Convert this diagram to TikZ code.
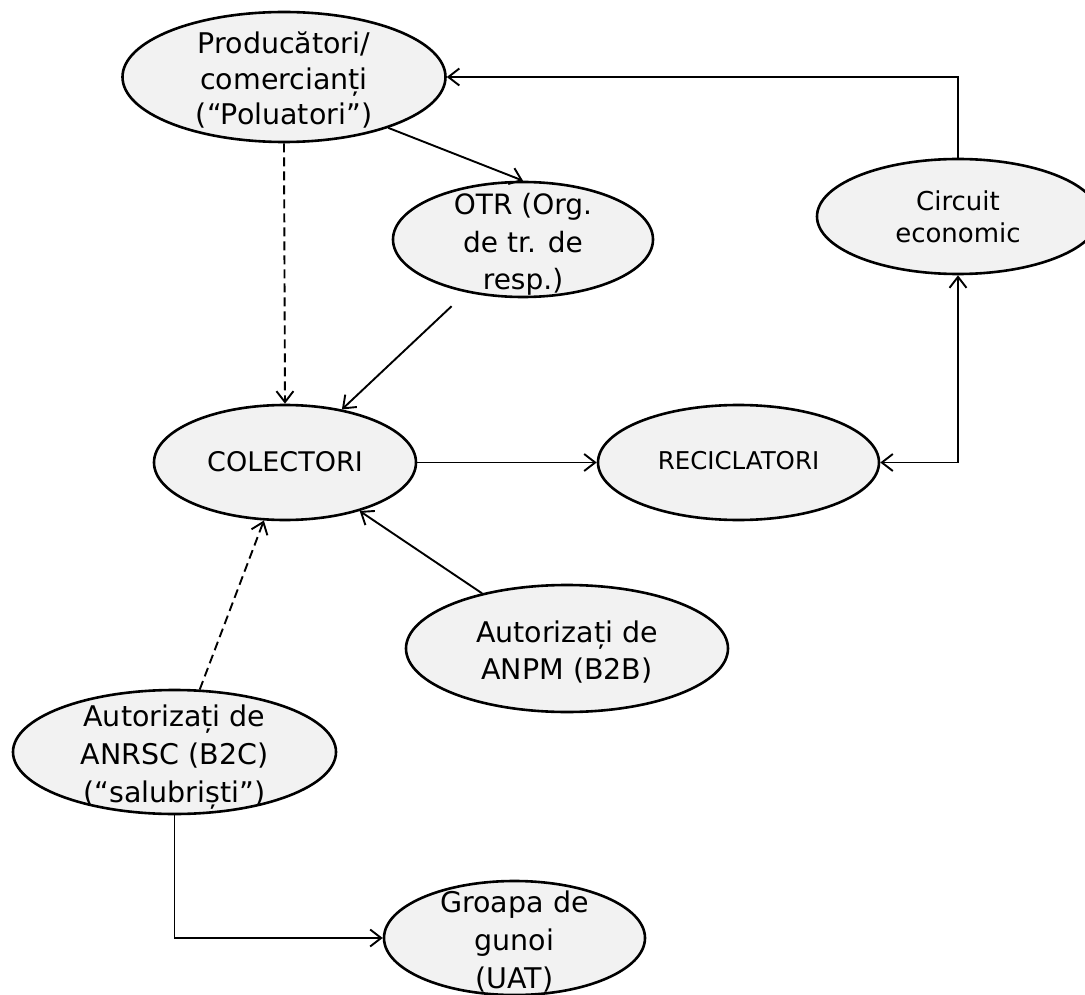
\documentclass[tikz,border=0pt]{standalone}
\usepackage{fontspec}
\setmainfont{DejaVu Sans}
\usetikzlibrary{shapes.geometric,arrows.meta}
\definecolor{ellfill}{HTML}{F2F2F2}
\newcommand\elltxt[4][-11.5pt]{\makebox[0pt]{\smash{\raisebox{#1}{\fontsize{#2}{#3}\selectfont\begin{tabular}{@{}c@{}}#4\end{tabular}}}}}
\begin{document}
\begin{tikzpicture}[x=1pt,y=-1pt,
  >={Straight Barb[length=11pt,width=17pt]},
  ell/.style={ellipse, draw, fill=ellfill, line width=2.6pt, inner sep=0pt},
  conn/.style={line width=1.9pt, ->},
  dconn/.style={conn, dash pattern=on 9pt off 5pt}]
\useasboundingbox (0,0) rectangle (1085,995);

\node[ell, minimum width=323, minimum height=130] (prod) at (284,77)
  {\elltxt{28.5}{35.5}{Producători/\\comercianți\\(“Poluatori”)}};
\node[ell, minimum width=260, minimum height=115] (otr) at (523,239.5)
  {\elltxt{28}{37.5}{OTR (Org.\\de tr. de\\resp.)}};
\node[ell, minimum width=262, minimum height=115] (col) at (285,462.5)
  {\elltxt[-7.5pt]{27}{37}{COLECTORI}};
\node[ell, minimum width=281, minimum height=115] (rec) at (738.5,462.5)
  {\elltxt[-7.5pt]{24.5}{30}{RECICLATORI}};
\node[ell, minimum width=282, minimum height=115] (cir) at (958,216.5)
  {\elltxt[-10pt]{26}{32}{Circuit\\economic}};
\node[ell, minimum width=322, minimum height=127] (anp) at (567,648.5)
  {\elltxt{28.5}{37}{Autorizați de\\ANPM (B2B)}};
\node[ell, minimum width=323, minimum height=124] (ans) at (174.5,752)
  {\elltxt{28.5}{38}{Autorizați de\\ANRSC (B2C)\\(“salubriști”)}};
\node[ell, minimum width=261, minimum height=114] (gro) at (514.5,938)
  {\elltxt{28.5}{38}{Groapa de\\gunoi\\(UAT)}};

\draw[conn] (cir.north) |- (prod.east);
\draw[conn] (prod.-26) -- (otr.north);
\draw[dconn] (prod.south) -- (col.north);
\draw[conn, shorten <=20pt] (otr.223) -- (col.43);
\draw[conn] (col.east) -- (rec.west);
\draw[conn] (anp.147) -- (col.-33);
\draw[dconn] (ans.68) -- (col.250);
\draw[conn] (ans.south) |- (gro.west);
\draw[conn, <->] (rec.east) -| (cir.south);
\end{tikzpicture}
\end{document}
